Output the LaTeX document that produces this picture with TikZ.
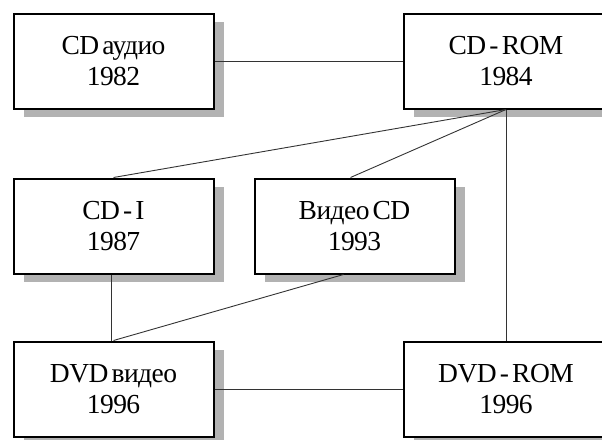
\documentclass[tikz,border=0pt]{standalone}
\usepackage{fontspec}
\setmainfont{Liberation Serif}[WordSpace=0.5, LetterSpace=-2]
\usetikzlibrary{shadows}
\begin{document}
\begin{tikzpicture}[x=1pt,y=-1pt,
  box/.style={draw=black, line width=2pt, fill=white, minimum width=200pt, minimum height=95pt,
    inner sep=0pt, align=center, font=\fontsize{27.5pt}{31pt}\selectfont,
    drop shadow={shadow xshift=10pt, shadow yshift=-8pt, opacity=1, fill=black!30}},
  link/.style={draw=black!80, line width=0.9pt}]
\useasboundingbox (0,0) rectangle (602,439);
\node[box] (cda) at (113.5,61) {CD аудио\\1982};
\node[box, minimum width=204pt] (cdrom) at (506,61) {CD - ROM\\1984};
\node[box] (cdi) at (113.5,226) {CD - I\\1987};
\node[box] (vcd) at (354.5,226) {Видео CD\\1993};
\node[box] (dvdv) at (113.5,389) {DVD видео\\1996};
\node[box, minimum width=204pt] (dvdrom) at (506,389) {DVD - ROM\\1996};
\draw[link] (cda.east) -- (cdrom.west);
\draw[link] (cdrom.south) -- (cdi.north);
\draw[link] (cdrom.south) -- ([xshift=-4pt]vcd.north);
\draw[link] (cdrom.south) -- (dvdrom.north);
\draw[link] ([xshift=-2pt]cdi.south) -- ([xshift=-2pt]dvdv.north);
\draw[link] ([xshift=-11pt]vcd.south) -- (dvdv.north);
\draw[link] (dvdv.east) -- (dvdrom.west);
\end{tikzpicture}
\end{document}
